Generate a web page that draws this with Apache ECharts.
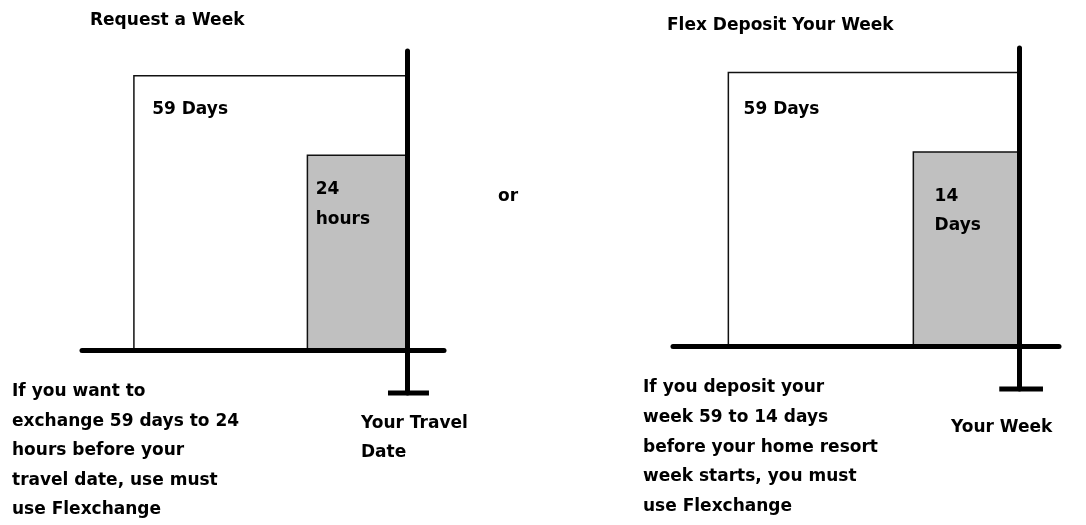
<!DOCTYPE html>
<html>
<head>
<meta charset="utf-8">
<script src="https://cdn.jsdelivr.net/npm/echarts@6/dist/echarts.min.js"></script>
<style>
  html, body { margin: 0; padding: 0; background: #fff; }
  #main { width: 1086px; height: 525px; }
</style>
</head>
<body>
<div id="main"></div>
<script>
// schematic units: the 59-day window is 100 wide and 100 tall, 0 = the travel date / week
const blockStart = [-100, -36.5];
const blockEnd = [0, 0];
const blockHeight = [100, 71];
const leftLabels = ["59 Days", "24\nhours"];
const rightLabels = ["59 Days", "14\nDays"];
const crossbarX = [-7, 8];

const xRange = [-119, 13.5];
const yRange = [-15.7, 109];

const panelTitles = ["Request a Week", "Flex Deposit Your Week"];
const leftNote = "If you want to\nexchange 59 days to 24\nhours before your\ntravel date, use must\nuse Flexchange";
const rightNote = "If you deposit your\nweek 59 to 14 days\nbefore your home resort\nweek starts, you must\nuse Flexchange";
const leftMarker = "Your Travel\nDate";
const rightMarker = "Your Week";

const FONT = 'bold 17px "DejaVu Sans"';
const fills = ["#ffffff", "#c0c0c0"];

function blockData(labels) {
  return blockStart.map((s, i) => [s, blockEnd[i], blockHeight[i], labels[i]]);
}

function makeRender(labelOffsets, lh) {
  return function (params, api) {
    const i = params.dataIndex;
    const topLeft = api.coord([api.value(0), api.value(2)]);
    const bottomRight = api.coord([api.value(1), 0]);
    return {
      type: "rect",
      shape: {
        x: topLeft[0],
        y: topLeft[1],
        width: bottomRight[0] - topLeft[0],
        height: bottomRight[1] - topLeft[1],
      },
      style: { fill: fills[i], stroke: "#111", lineWidth: 1.5 },
      textContent: {
        style: {
          text: api.value(3),
          font: FONT,
          fill: "#000",
          lineHeight: lh,
          align: "left",
          verticalAlign: "top",
        },
      },
      textConfig: { position: labelOffsets[i] },
    };
  };
}

function axisPair(gridIndex) {
  const line = { onZero: true, lineStyle: { color: "#000", width: 5 } };
  return {
    x: {
      type: "value", gridIndex, min: xRange[0], max: xRange[1], z: 5,
      axisLine: line, axisTick: { show: false }, axisLabel: { show: false }, splitLine: { show: false },
    },
    y: {
      type: "value", gridIndex, min: yRange[0], max: yRange[1], z: 5,
      axisLine: line, axisTick: { show: false }, axisLabel: { show: false }, splitLine: { show: false },
    },
  };
}

const a0 = axisPair(0);
const a1 = axisPair(1);

function crossbar(idx) {
  return {
    type: "line",
    xAxisIndex: idx,
    yAxisIndex: idx,
    data: crossbarX.map((x) => [x, yRange[0]]),
    symbol: "none",
    clip: false,
    z: 6,
    lineStyle: { color: "#000", width: 5 },
    silent: true,
  };
}

function note(text, x, y, lh) {
  return {
    type: "text",
    left: x,
    top: y,
    style: { text, font: FONT, fill: "#000", lineHeight: lh },
  };
}

const titleStyle = { fontWeight: "bold", fontSize: 17, fontFamily: "DejaVu Sans", color: "#000" };

const chart = echarts.init(document.getElementById("main"), null, { renderer: "canvas" });
chart.setOption({
  backgroundColor: "#fff",
  animation: false,
  title: [
    { text: panelTitles[0], left: 90, top: 12, padding: 0, textStyle: titleStyle },
    { text: panelTitles[1], left: 667, top: 17, padding: 0, textStyle: titleStyle },
  ],
  grid: [
    { left: 82, top: 51, width: 362, height: 342 },
    { left: 673, top: 48, width: 386, height: 341 },
  ],
  xAxis: [a0.x, a1.x],
  yAxis: [a0.y, a1.y],
  series: [
    {
      type: "custom",
      xAxisIndex: 0,
      yAxisIndex: 0,
      data: blockData(leftLabels),
      renderItem: makeRender([[19, 20], [9, 20]], 30),
      silent: true,
    },
    {
      type: "custom",
      xAxisIndex: 1,
      yAxisIndex: 1,
      data: blockData(rightLabels),
      renderItem: makeRender([[16, 23], [22, 31]], 29),
      silent: true,
    },
    crossbar(0),
    crossbar(1),
  ],
  graphic: [
    { type: "text", left: 498, top: 188, style: { text: "or", font: FONT, fill: "#000" } },
    note(leftNote, 12, 377, 29.5),
    note(leftMarker, 361, 409, 29),
    note(rightNote, 643, 373, 29.7),
    note(rightMarker, 951, 413, 29),
  ],
});
</script>
</body>
</html>
